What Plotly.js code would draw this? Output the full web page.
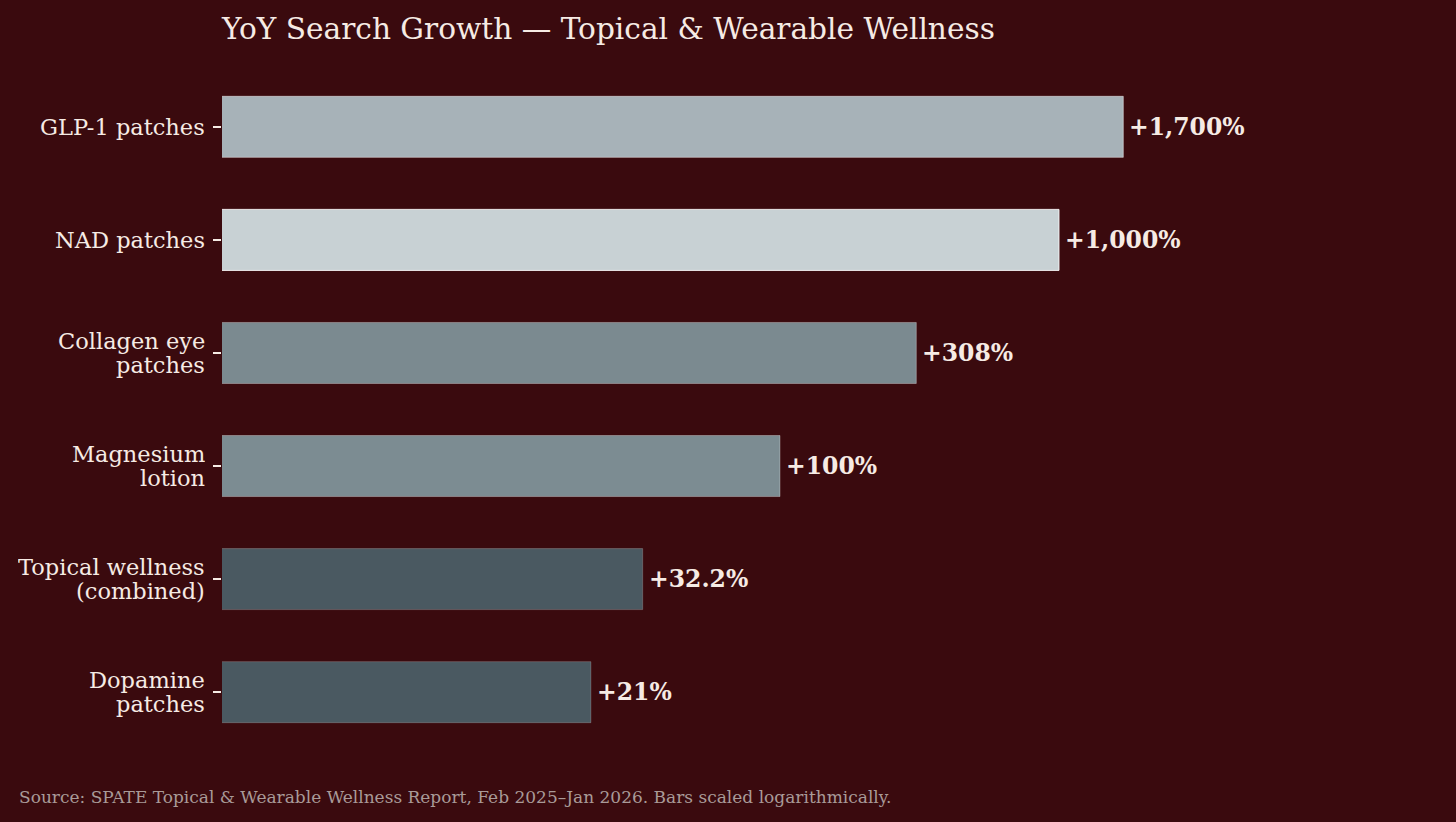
<!DOCTYPE html>
<html>
<head>
<meta charset="utf-8">
<script src="https://cdn.plot.ly/plotly-3.0.1.min.js"></script>
<style>html,body{margin:0;padding:0;background:#3a0a0e;}#chart{width:1456px;height:822px;}</style>
</head>
<body>
<div id="chart"></div>
<script>
const categories = ["GLP-1 patches", "NAD patches", "Collagen eye<br>patches", "Magnesium<br>lotion", "Topical wellness<br>(combined)", "Dopamine<br>patches"];
const growthPct = [1700, 1000, 308, 100, 32.2, 21];
const valueLabels = ["+1,700%", "+1,000%", "+308%", "+100%", "+32.2%", "+21%"];
const barColors = ["#a7b2b8", "#c8d1d4", "#7b8a90", "#7c8c92", "#4a5961", "#4a5961"];
const edgeColors = ["rgba(255,255,255,0.45)", "rgba(255,255,255,0.85)", "rgba(255,255,255,0.3)", "rgba(255,255,255,0.3)", "rgba(255,255,255,0.2)", "rgba(255,255,255,0.2)"];

const W = 1456, H = 822;
const margin = {l: 222, r: 58, t: 59, b: 62, pad: 0};
const plotW = W - margin.l - margin.r;
const plotH = H - margin.t - margin.b;
const pxPerDecade = 279;
const bg = "#3a0a0e";
const txt = "#f6ebe4";
const labelSize = 22.5;
const lineGap = 24;

const trace = {
  type: "bar",
  orientation: "h",
  y: categories,
  x: growthPct,
  width: 0.54,
  marker: {color: barColors, line: {color: edgeColors, width: 1}},
  hoverinfo: "skip"
};

// category labels drawn line by line for matplotlib-like tight line spacing
const labelAnns = [];
categories.forEach(function (cat) {
  const lines = cat.split("<br>");
  lines.forEach(function (ln, i) {
    labelAnns.push({
      text: ln,
      xref: "paper", x: 0, xanchor: "right", xshift: -15,
      yref: "y", y: cat, yanchor: "middle",
      yshift: -((i - (lines.length - 1) / 2) * lineGap),
      height: 26, valign: "middle",
      showarrow: false,
      font: {family: "DejaVu Serif", size: labelSize, color: txt}
    });
  });
});

// value labels at the bar ends
const valueAnns = growthPct.map(function (v, i) {
  return {
    text: "<b>" + valueLabels[i] + "</b>",
    xref: "x", x: Math.log10(v), xanchor: "left", xshift: 4,
    yref: "y", y: categories[i], yanchor: "middle",
    showarrow: false,
    font: {family: "DejaVu Serif", size: 23.5, color: txt}
  };
});

const layout = {
  width: W, height: H,
  margin: margin,
  paper_bgcolor: bg,
  plot_bgcolor: bg,
  showlegend: false,
  font: {family: "DejaVu Serif", color: txt},
  title: {
    text: "YoY Search Growth — Topical &amp; Wearable Wellness",
    font: {family: "DejaVu Serif", size: 29.6, color: txt},
    xref: "paper", x: 0, xanchor: "left",
    yref: "container", y: 1 - 29 / H, yanchor: "middle"
  },
  xaxis: {
    type: "log",
    range: [0, plotW / pxPerDecade],
    visible: false,
    showgrid: false, zeroline: false, fixedrange: true
  },
  yaxis: {
    type: "category",
    categoryorder: "array",
    categoryarray: categories,
    range: [5.6, -0.6],
    showgrid: false, zeroline: false, showline: false,
    ticks: "outside", ticklen: 8, tickwidth: 1.5, tickcolor: txt,
    showticklabels: false,
    fixedrange: true
  },
  annotations: labelAnns.concat(valueAnns, [{
    text: "Source: SPATE Topical &amp; Wearable Wellness Report, Feb 2025–Jan 2026. Bars scaled logarithmically.",
    xref: "paper", yref: "paper",
    x: (17 - margin.l) / plotW, xanchor: "left",
    y: (H - margin.b - 797) / plotH, yanchor: "middle",
    showarrow: false,
    font: {family: "DejaVu Serif", size: 17, color: "#a99a98"}
  }])
};

Plotly.newPlot("chart", [trace], layout, {displayModeBar: false, staticPlot: true});
</script>
</body>
</html>
